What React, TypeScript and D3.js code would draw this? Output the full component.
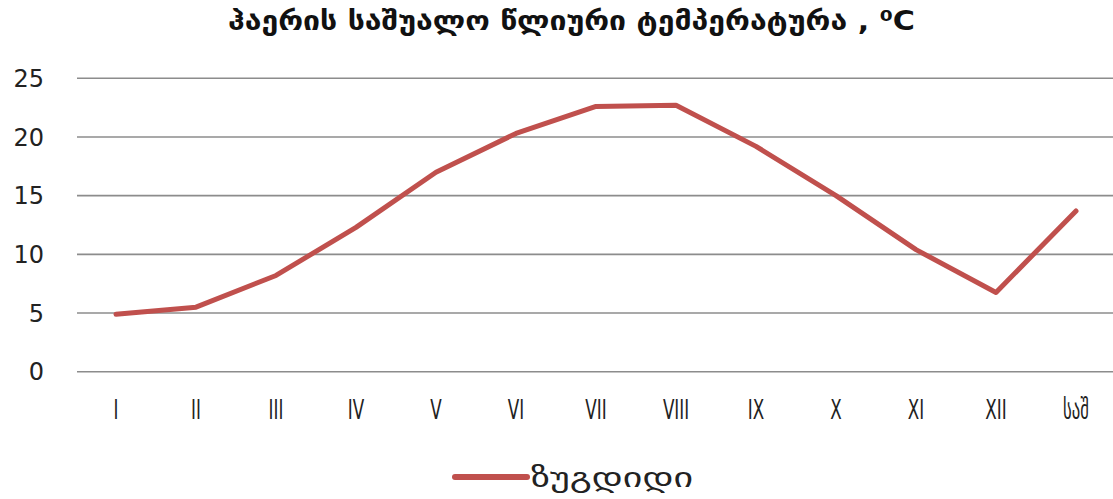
import React, { useEffect, useRef } from 'react';
import * as d3 from 'd3';

const title = "ჰაერის საშუალო წლიური ტემპერატურა , ⁰C";
const seriesName = "ზუგდიდი";
const months = ["I", "II", "III", "IV", "V", "VI", "VII", "VIII", "IX", "X", "XI", "XII", "საშ"];
const temps = [4.9, 5.5, 8.2, 12.3, 17.0, 20.3, 22.6, 22.7, 19.2, 15.0, 10.4, 6.75, 13.7];
const yTicks = [0, 5, 10, 15, 20, 25];

const W = 1113;
const H = 499;
const lineColor = "#c0504d";

const App: React.FC = () => {
  const svgRef = useRef<SVGSVGElement>(null);

  useEffect(() => {
    if (!svgRef.current) return;
    const svg = d3.select(svgRef.current);
    svg.selectAll("*").remove();

    const x = d3.scaleBand<string>().domain(months).range([76, 1116]).padding(0);
    const y = d3.scaleLinear().domain([0, 25]).range([371.7, 78.3]);
    const cx = (m: string) => x(m)! + x.bandwidth() / 2;

    // title
    svg.append("text")
      .attr("x", 228).attr("y", 30)
      .attr("font-family", "DejaVu Sans")
      .attr("font-weight", "bold")
      .attr("font-size", 26)
      .attr("textLength", 687)
      .attr("lengthAdjust", "spacingAndGlyphs")
      .attr("fill", "#111")
      .text(title);

    // gridlines
    svg.append("g")
      .selectAll("line")
      .data(yTicks)
      .join("line")
      .attr("x1", 77).attr("x2", W)
      .attr("y1", d => y(d)).attr("y2", d => y(d))
      .attr("stroke", "#8c8c8c")
      .attr("stroke-width", 1.6);

    // y labels
    svg.append("g")
      .selectAll("text")
      .data(yTicks)
      .join("text")
      .attr("x", 44).attr("y", d => y(d))
      .attr("dy", "0.36em")
      .attr("text-anchor", "end")
      .attr("font-family", "DejaVu Sans")
      .attr("font-size", 24)
      .attr("fill", "#222")
      .text(d => d);

    // x labels (narrow)
    svg.append("g")
      .selectAll("text")
      .data(months)
      .join("text")
      .attr("transform", d => `translate(${cx(d)},419) scale(0.62,1)`)
      .attr("text-anchor", "middle")
      .attr("font-family", "DejaVu Sans")
      .attr("font-size", 27)
      .attr("fill", "#222")
      .text(d => d);

    // line
    const line = d3.line<number>()
      .x((_, i) => cx(months[i]))
      .y(d => y(d));

    svg.append("path")
      .datum(temps)
      .attr("d", line)
      .attr("fill", "none")
      .attr("stroke", lineColor)
      .attr("stroke-width", 5)
      .attr("stroke-linejoin", "round")
      .attr("stroke-linecap", "round");

    // legend
    svg.append("line")
      .attr("x1", 455).attr("x2", 527)
      .attr("y1", 477).attr("y2", 477)
      .attr("stroke", lineColor)
      .attr("stroke-width", 6)
      .attr("stroke-linecap", "round");

    svg.append("text")
      .attr("x", 531).attr("y", 487)
      .attr("font-family", "DejaVu Sans")
      .attr("font-size", 28)
      .attr("textLength", 162)
      .attr("lengthAdjust", "spacingAndGlyphs")
      .attr("fill", "#222")
      .text(seriesName);
  }, []);

  return (
    <svg
      ref={svgRef}
      width={W}
      height={H}
      style={{ position: 'absolute', left: 0, top: 0, background: '#fff' }}
    />
  );
};

export default App;
